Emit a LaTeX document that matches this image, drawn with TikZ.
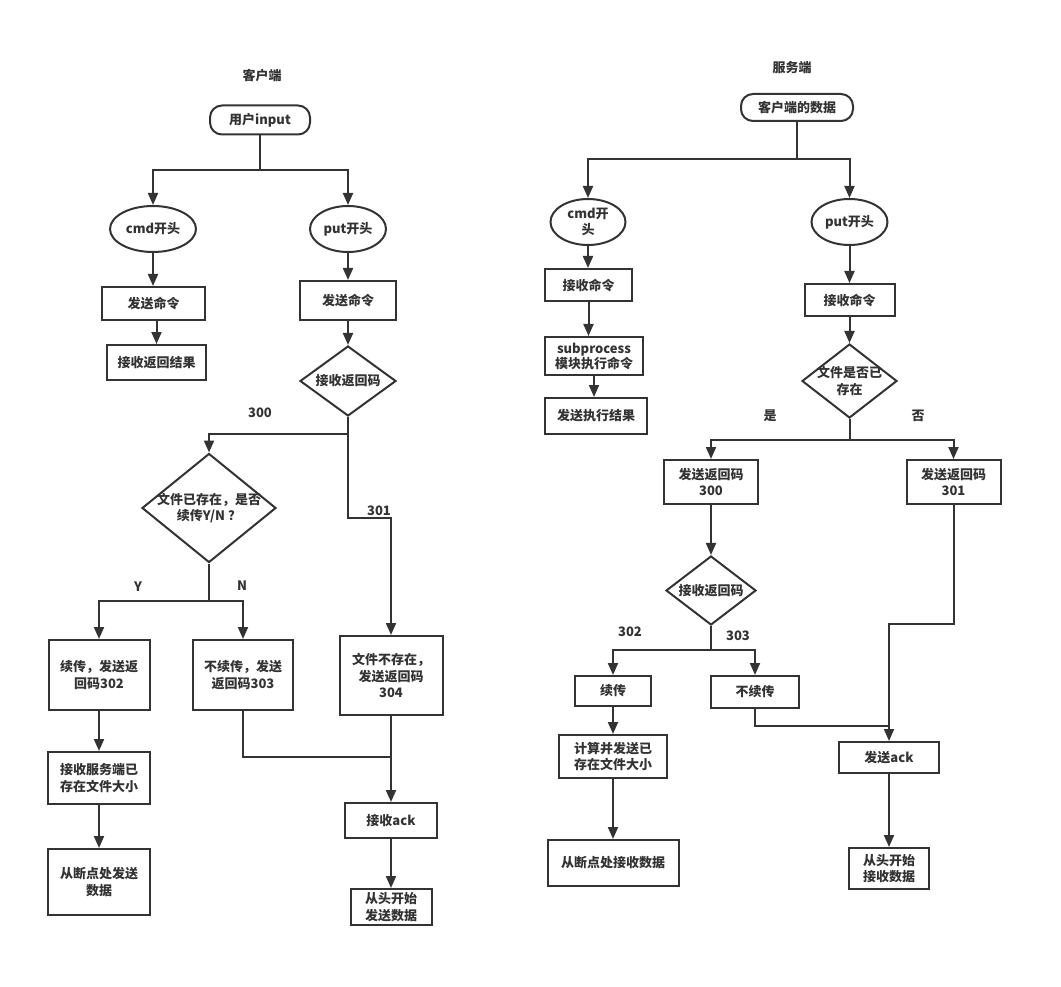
\documentclass[tikz,border=0pt]{standalone}
\usepackage{fontspec}
\setmainfont{Noto Sans CJK SC}
\usetikzlibrary{shapes.geometric,arrows.meta}
\definecolor{ink}{HTML}{333333}
\newcommand\tfont{\fontsize{13}{16.5}\selectfont\bfseries}
\begin{document}
\begin{tikzpicture}[x=1pt,y=-1pt,line width=2pt,draw=ink,
  lbl/.style={text=ink,font=\tfont,align=center,inner sep=0pt},
  box/.style={draw=ink,rectangle,inner sep=2pt,align=center,text=ink,font=\tfont},
  rbox/.style={box,rounded corners=12pt},
  ell/.style={draw=ink,ellipse,inner sep=0pt},
  dia/.style={draw=ink,diamond,inner sep=0pt},
  arr/.style={-{Triangle[length=12pt,width=10pt]}}]
\useasboundingbox (0,0) rectangle (1061,987);
% ---------------- client ----------------
\node[lbl] (t1) at (262,76) {客户端};
\node[rbox,minimum width=100pt,minimum height=29pt] (user) at (260,120) {用户input};
\node[ell,minimum width=86pt,minimum height=46pt,label={[lbl]center:cmd开头}] (cmd1) at (153,229) {};
\node[ell,minimum width=76pt,minimum height=46pt,label={[lbl]center:put开头}] (put1) at (348,229) {};
\node[box,minimum width=103pt,minimum height=33pt] (send1) at (153.5,303.5) {发送命令};
\node[box,minimum width=99pt,minimum height=35pt] (recv1) at (156.5,362.5) {接收返回结果};
\node[box,minimum width=96pt,minimum height=39pt] (send2) at (348,300.5) {发送命令};
\node[dia,minimum width=96pt,minimum height=70pt,label={[lbl]center:接收返回码}] (rc1) at (348,381) {};
\node[dia,minimum width=134pt,minimum height=109pt,label={[lbl]center:文件已存在，是否\\续传Y/N ？}] (ex1) at (209,508) {};
\node[lbl] (l300) at (260,413) {300};
\node[lbl] (l301) at (379,511) {301};
\node[lbl] (lY) at (138,587) {Y};
\node[lbl] (lN) at (242,586) {N};
\node[box,minimum width=101pt,minimum height=70pt] (b302) at (99,675) {续传，发送返\\回码302};
\node[box,minimum width=100pt,minimum height=70pt] (b303) at (243,675) {不续传，发送\\返回码303};
\node[box,minimum width=103pt,minimum height=79pt] (b304) at (391,675.5) {文件不存在，\\发送返回码\\304};
\node[box,minimum width=102pt,minimum height=52pt] (rsz) at (99,778) {接收服务端已\\存在文件大小};
\node[box,minimum width=102pt,minimum height=66pt] (bp1) at (99,882) {从断点处发送\\数据};
\node[box,minimum width=92pt,minimum height=35pt] (ack1) at (391,820.5) {接收ack};
\node[box,minimum width=81pt,minimum height=36pt] (fs1) at (391,907) {从头开始\\发送数据};
\coordinate (j0) at (260,170);
\coordinate (j1) at (348,434);
\coordinate (j2) at (348,518);
\coordinate (j3) at (209,601);
\coordinate (j4) at (391,757);
\draw (user) -- (j0);
\draw[arr] (j0) -| (cmd1.north);
\draw[arr] (j0) -| (put1.north);
\draw[arr] (cmd1.south) -- (cmd1.south |- send1.north);
\draw[arr] (recv1.north |- send1.south) -- (recv1.north);
\draw[arr] (put1) -- (send2);
\draw[arr] (send2) -- (rc1);
\draw (rc1.south) -- (j1);
\draw[arr] (j1) -| (ex1.north);
\draw[arr] (j1) -- (j2) -| (b304.north);
\draw (ex1.south) -- (j3);
\draw[arr] (j3) -| (b302.north);
\draw[arr] (j3) -| (b303.north);
\draw[arr] (b302) -- (rsz);
\draw[arr] (rsz) -- (bp1);
\draw (b303.south) |- (j4);
\draw[arr] (b304) -- (ack1);
\draw[arr] (ack1) -- (fs1);
% ---------------- server ----------------
\node[lbl] (t2) at (792,68) {服务端};
\node[rbox,minimum width=112pt,minimum height=27pt] (cdata) at (797,107.5) {客户端的数据};
\node[ell,minimum width=75pt,minimum height=46pt,label={[lbl]center:cmd开\\头}] (cmd2) at (588,222) {};
\node[ell,minimum width=76pt,minimum height=46pt,label={[lbl]center:put开头}] (put2) at (849.5,222) {};
\node[box,minimum width=87pt,minimum height=32pt] (rcmd2) at (588.5,285) {接收命令};
\node[box,minimum width=98pt,minimum height=38pt,font=\fontsize{13}{15}\selectfont\bfseries] (sp) at (594,356) {subprocess\\模块执行命令};
\node[box,minimum width=102pt,minimum height=36pt] (res) at (596,416) {发送执行结果};
\node[box,minimum width=90pt,minimum height=32pt] (rcmd3) at (849.5,300) {接收命令};
\node[dia,minimum width=95pt,minimum height=74pt,label={[lbl]center:文件是否已\\存在}] (fe) at (849.5,381) {};
\node[lbl] (lyes) at (770,416) {是};
\node[lbl] (lno) at (918,416) {否};
\node[box,minimum width=94pt,minimum height=44pt] (r300) at (711,482) {发送返回码\\300};
\node[box,minimum width=94pt,minimum height=44pt] (r301) at (953.5,482) {发送返回码\\301};
\node[dia,minimum width=90pt,minimum height=69pt,label={[lbl]center:接收返回码}] (rc2) at (711,590.5) {};
\node[lbl] (l302) at (630,632) {302};
\node[lbl] (l303) at (738,636) {303};
\node[box,minimum width=76pt,minimum height=30pt] (xc) at (613,691) {续传};
\node[box,minimum width=88pt,minimum height=32pt] (nxc) at (755,692) {不续传};
\node[box,minimum width=108pt,minimum height=43pt] (calc) at (613,756.5) {计算并发送已\\存在文件大小};
\node[box,minimum width=131pt,minimum height=46pt] (bp2) at (613,863) {从断点处接收数据};
\node[box,minimum width=100pt,minimum height=31pt] (ack2) at (889,757.5) {发送ack};
\node[box,minimum width=80pt,minimum height=41pt] (fs2) at (889,868.5) {从头开始\\接收数据};
\coordinate (k0) at (797,159);
\coordinate (k1) at (849.5,440);
\coordinate (k2) at (711,650);
\coordinate (k3) at (953.5,624);
\coordinate (k4) at (889,726);
\draw (cdata) -- (k0);
\draw[arr] (k0) -| (cmd2.north);
\draw[arr] (k0) -| (put2.north);
\draw[arr] (cmd2.south) -- (cmd2.south |- rcmd2.north);
\draw[arr] (rcmd2.south) -- (rcmd2.south |- sp.north);
\draw[arr] (sp.south) -- (sp.south |- res.north);
\draw[arr] (put2) -- (rcmd3);
\draw[arr] (rcmd3) -- (fe);
\draw (fe.south) -- (k1);
\draw[arr] (k1) -| (r300.north);
\draw[arr] (k1) -| (r301.north);
\draw[arr] (r300) -- (rc2);
\draw (rc2.south) -- (k2);
\draw[arr] (k2) -| (xc.north);
\draw[arr] (k2) -| (nxc.north);
\draw[arr] (xc) -- (calc);
\draw[arr] (calc) -- (bp2);
\draw[arr] (r301.south) -- (k3) -| (ack2.north);
\draw (nxc.south) |- (k4);
\draw[arr] (ack2) -- (fs2);
\end{tikzpicture}
\end{document}
